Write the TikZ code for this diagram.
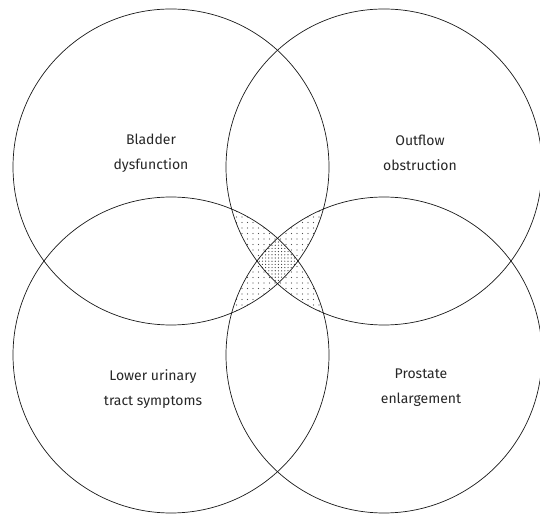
\documentclass[tikz,border=0pt]{standalone}
\usepackage{fontspec}
\setmainfont{Fira Sans}
\usetikzlibrary{patterns.meta}
\begin{document}
\begin{tikzpicture}[x=1pt,y=1pt,
  ring/.style={draw=black!90,line width=0.7pt},
  lbl/.style={align=center,font=\fontsize{14}{25}\selectfont,text=black!85},
  sparse/.style={pattern={Dots[distance=5.5pt,radius=0.55pt]},pattern color=black!70},
  dense/.style={pattern={Dots[distance=3.2pt,radius=0.6pt]},pattern color=black!80}]
\useasboundingbox (0,0) rectangle (540,514);
\def\R{158}
\coordinate (tl) at (171,347);
\coordinate (tr) at (384,347);
\coordinate (bl) at (171,159);
\coordinate (br) at (384,159);
% three-circle overlaps
\begin{scope}\clip (tl) circle (\R); \clip (tr) circle (\R); \fill[sparse] (bl) circle (\R); \end{scope}
\begin{scope}\clip (tl) circle (\R); \clip (tr) circle (\R); \fill[sparse] (br) circle (\R); \end{scope}
\begin{scope}\clip (bl) circle (\R); \clip (br) circle (\R); \fill[sparse] (tl) circle (\R); \end{scope}
\begin{scope}\clip (bl) circle (\R); \clip (br) circle (\R); \fill[sparse] (tr) circle (\R); \end{scope}
% four-circle overlap
\begin{scope}\clip (tl) circle (\R); \clip (tr) circle (\R); \clip (bl) circle (\R);
  \fill[white] (br) circle (\R); \fill[dense] (br) circle (\R); \end{scope}
\draw[ring] (tl) circle (\R);
\draw[ring] (tr) circle (\R);
\draw[ring] (bl) circle (\R);
\draw[ring] (br) circle (\R);
\node[lbl] (a) at (151,361) {Bladder\\dysfunction};
\node[lbl] (b) at (420,361) {Outflow\\obstruction};
\node[lbl] (c) at (153,125) {Lower urinary\\tract symptoms};
\node[lbl] (d) at (421,126) {Prostate\\enlargement};
\end{tikzpicture}
\end{document}
